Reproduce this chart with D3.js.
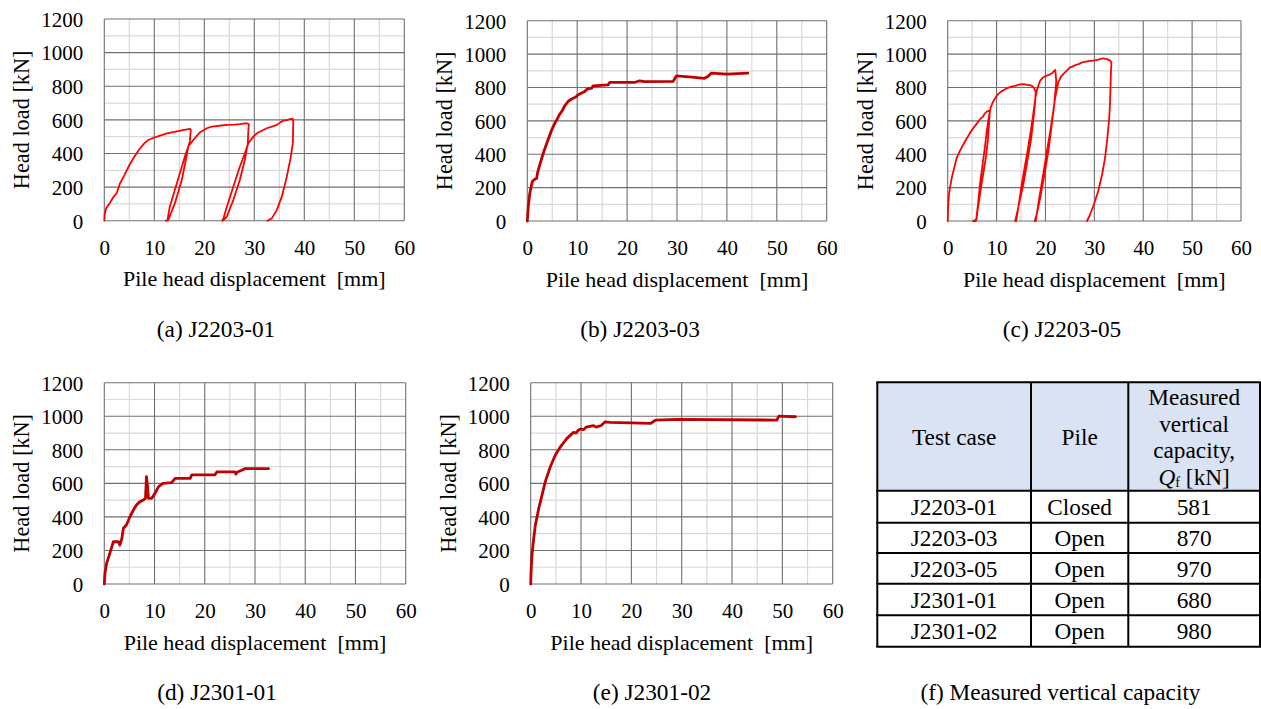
<!DOCTYPE html>
<html>
<head>
<meta charset="utf-8">
<script src="https://cdn.jsdelivr.net/npm/d3@7"></script>
<style>
  html, body { margin: 0; padding: 0; background: #ffffff; }
  svg { display: block; }
</style>
</head>
<body>
<svg id="chart" width="1261" height="709" font-family="Liberation Serif"></svg>
<script>
// ---------------- DATA ----------------
const xTicks = [0, 10, 20, 30, 40, 50, 60];
const yTicks = [0, 200, 400, 600, 800, 1000, 1200];
const xTitle = "Pile head displacement  [mm]";
const yTitle = "Head load [kN]";

// (a) J2203-01 : displacement [mm], load [kN]
const dispA = [0,0.1,0.4,1,1.8,2.5,3.1,4,5,6,7,8,8.8,10,11,12.5,13.5,15,16,17.1,17.3,
  17.1,16.8,16.3,15.5,14.1,12.8,12.3,
  12.6,13.1,14.5,15.5,16.3,16.8,17.8,19.1,20.5,21.5,23,24.5,26,27.1,28.5,28.9,
  28.8,28.7,28.1,27.1,25.8,24.5,23.9,23.6,
  23.9,24.5,25.8,27.1,28.1,28.8,29.8,30.5,31.5,32.5,33.5,34.5,35.2,35.8,36.5,37.2,37.7,
  37.8,37.7,37.3,36.5,35.5,34.5,33.5,32.6];
const loadA = [0,45,75,100,140,165,220,270,330,380,425,460,480,495,505,520,525,535,540,546,540,
  470,441,361,242,103,4,0,
  0,83,222,321,400,441,480,525,550,560,565,570,572,575,580,575,
  530,460,361,242,123,24,5,0,
  20,83,202,321,400,460,500,520,535,550,560,570,585,595,598,605,605,
  590,460,380,262,143,63,14,0];

// (b) J2203-03
const dispB = [0,0.2,0.5,1.0,1.5,1.9,2.0,2.2,2.5,3.2,3.9,4.9,5.5,5.9,6.5,6.9,7.5,8.2,8.6,9.2,9.8,10.2,10.8,11.5,12.0,12.9,13.2,16.2,16.5,21.5,22.5,23.5,29.2,29.9,33,35.5,36.2,36.9,40,44.2];
const loadB = [0,86,166,236,250,256,280,306,336,406,466,546,585,606,640,656,690,716,725,736,745,756,765,776,790,796,810,816,830,830,840,835,836,870,862,855,866,886,880,886];

// (c) J2203-05
const dispC = [0,0.1,0.3,0.8,1.8,2.5,3.5,4.5,5.2,6,6.6,7.2,7.6,8,8.3,8.6,
  8.5,8.2,7.8,7.2,6.6,6.1,5.9,5.2,
  5.8,6.2,6.6,7.1,7.6,8,8.4,8.8,9.2,9.7,10.3,10.9,12.1,13,13.8,14.8,15.5,16.3,16.8,17.3,17.7,18,
  17.9,17.5,17,16.3,15.6,14.8,14.2,13.8,
  14,14.6,15.2,15.8,16.4,17,17.5,17.9,18.3,18.9,19.5,20,20.7,21.3,21.8,22,22.2,
  22.1,21.8,21.3,20.6,19.8,19,18.3,17.8,
  18,18.8,19.6,20.3,21,21.5,22,22.6,23.3,23.8,24.5,25,25.5,26.2,26.8,27.5,28.8,30.1,31,31.8,32.6,33.3,33.5,
  33.4,33.2,33,32.6,32.2,31.6,30.8,29.8,29,28.5];
const loadC = [0,100,170,255,375,420,475,525,555,585,610,625,645,655,660,655,
  600,480,380,270,160,60,10,0,
  0,100,220,330,440,540,620,680,710,735,760,775,795,805,810,818,820,815,814,808,795,775,
  720,600,480,360,240,130,50,0,
  0,110,230,330,430,540,640,730,790,840,860,868,875,885,900,905,840,
  800,700,580,420,280,150,50,0,
  0,150,290,420,540,640,740,830,870,885,905,920,925,935,940,950,958,962,968,975,970,960,945,
  900,700,600,480,380,280,180,90,30,0];

// (d) J2301-01
const dispD = [0,0.13,0.46,1.1,1.8,2.8,3.1,3.5,3.8,4.4,5.1,5.8,6.4,7.1,7.8,8.2,8.4,8.6,8.8,9.4,10.1,10.8,11.7,13.4,14.1,17.1,17.4,22.0,22.4,26.0,26.2,26.5,27.5,28.0,32.7];
const loadD = [0,64,123,183,252,252,232,272,332,352,401,441,471,491,501,510,640,580,510,510,540,580,600,604,630,630,650,650,668,668,655,668,680,688,688];

// (e) J2301-02
const dispE = [0,0.07,0.26,0.6,0.93,1.6,2.25,2.9,3.9,4.9,5.9,7.2,8.5,9.0,9.5,9.9,10.5,11.0,11.5,12.5,13.0,14.0,14.8,15.8,23.8,24.8,29.1,48.9,49.3,52.6];
const loadE = [0,73,173,272,352,451,530,610,699,769,818,868,904,900,918,924,920,935,938,944,935,945,967,963,957,977,981,977,1001,997];

// (f) table
const tableHeader = ["Test case", "Pile"];
const headerCapacity = ["Measured", "vertical", "capacity,"];
const testCases = ["J2203-01", "J2203-03", "J2203-05", "J2301-01", "J2301-02"];
const pileTypes = ["Closed", "Open", "Open", "Open", "Open"];
const capacities = [581, 870, 970, 680, 980];

const captions = ["(a) J2203-01", "(b) J2203-03", "(c) J2203-05", "(d) J2301-01", "(e) J2301-02", "(f) Measured vertical capacity"];

// ---------------- LAYOUT ----------------
const FONT = "Liberation Serif";
const svg = d3.select("#chart");
svg.append("rect").attr("width", 1261).attr("height", 709).attr("fill", "#fff");

function txt(sel) {
  return sel.append("text").attr("font-family", FONT).attr("fill", "#000");
}

const panels = [
  {x: dispA, y: loadA, left: 104.3, top: 19.0, w: 300.0, h: 201.7, color: "#ff0000", sw: 1.8, cap: captions[0], capX: 216, capY: 337},
  {x: dispB, y: loadB, left: 527.3, top: 20.7, w: 299.4, h: 200.3, color: "#c00000", sw: 2.8, cap: captions[1], capX: 640, capY: 337},
  {x: dispC, y: loadC, left: 947.7, top: 20.7, w: 293.3, h: 200.3, color: "#ff0000", sw: 1.8, cap: captions[2], capX: 1062, capY: 337},
  {x: dispD, y: loadD, left: 104.3, top: 382.7, w: 301.4, h: 201.3, color: "#c00000", sw: 2.8, cap: captions[3], capX: 217, capY: 700},
  {x: dispE, y: loadE, left: 530.7, top: 382.7, w: 302.0, h: 201.3, color: "#c00000", sw: 2.8, cap: captions[4], capX: 652, capY: 700}
];

const MAJOR = "#6f6f6f", MINOR = "#d9d9d9";

panels.forEach(p => {
  const g = svg.append("g");
  const xs = d3.scaleLinear().domain([0, 60]).range([p.left, p.left + p.w]);
  const ys = d3.scaleLinear().domain([0, 1200]).range([p.top + p.h, p.top]);

  const minorX = d3.range(5, 60, 10);
  const minorY = d3.range(100, 1200, 200);
  g.selectAll(".mx").data(minorX).enter().append("line")
    .attr("x1", d => xs(d)).attr("x2", d => xs(d))
    .attr("y1", p.top).attr("y2", p.top + p.h)
    .attr("stroke", MINOR).attr("stroke-width", 1.2);
  g.selectAll(".my").data(minorY).enter().append("line")
    .attr("y1", d => ys(d)).attr("y2", d => ys(d))
    .attr("x1", p.left).attr("x2", p.left + p.w)
    .attr("stroke", MINOR).attr("stroke-width", 1.2);
  g.selectAll(".Mx").data(xTicks).enter().append("line")
    .attr("x1", d => xs(d)).attr("x2", d => xs(d))
    .attr("y1", p.top).attr("y2", p.top + p.h)
    .attr("stroke", MAJOR).attr("stroke-width", 1.1);
  g.selectAll(".My").data(yTicks).enter().append("line")
    .attr("y1", d => ys(d)).attr("y2", d => ys(d))
    .attr("x1", p.left).attr("x2", p.left + p.w)
    .attr("stroke", MAJOR).attr("stroke-width", 1.1);

  const ax = d3.axisBottom(xs).tickValues(xTicks).tickSize(0).tickPadding(0).tickFormat(d3.format("d"));
  const axG = g.append("g").attr("transform", `translate(0,${p.top + p.h})`).call(ax)
    .attr("font-family", FONT).attr("font-size", 21);
  axG.select(".domain").remove();
  axG.selectAll("text").attr("y", 34).attr("dy", null).attr("fill", "#000").attr("font-family", FONT);

  const ay = d3.axisLeft(ys).tickValues(yTicks).tickSize(0).tickPadding(0).tickFormat(d3.format("d"));
  const ayG = g.append("g").attr("transform", `translate(${p.left},0)`).call(ay)
    .attr("font-family", FONT).attr("font-size", 21);
  ayG.select(".domain").remove();
  ayG.selectAll("text").attr("x", -21).attr("dy", "0.35em").attr("fill", "#000").attr("font-family", FONT);

  txt(g).attr("x", p.left + p.w / 2).attr("y", p.top + p.h + 65.5)
    .attr("text-anchor", "middle").attr("font-size", 22)
    .style("white-space", "pre").text(xTitle);
  txt(g)
    .attr("transform", `translate(${p.left - 83},${p.top + p.h / 2}) rotate(-90)`)
    .attr("text-anchor", "middle").attr("dy", "0.35em").attr("font-size", 22.3)
    .text(yTitle);

  const pts = p.x.map((d, i) => [d, p.y[i]]);
  const line = d3.line().x(d => xs(d[0])).y(d => ys(d[1]));
  g.append("path").datum(pts).attr("d", line)
    .attr("fill", "none").attr("stroke", p.color).attr("stroke-width", p.sw)
    .attr("stroke-linejoin", "round").attr("stroke-linecap", "round");

  txt(svg).attr("x", p.capX).attr("y", p.capY).attr("text-anchor", "middle")
    .attr("font-size", 23.3).text(p.cap);
});

// ---------------- TABLE (f) ----------------
const colEdges = [877.3, 1031, 1128.3, 1260];
const rowEdges = [382.3, 490.7, 522.7, 553, 583.7, 615.3, 646.7];
const tg = svg.append("g");
tg.append("rect").attr("x", colEdges[0]).attr("y", rowEdges[0])
  .attr("width", colEdges[3] - colEdges[0]).attr("height", rowEdges[1] - rowEdges[0])
  .attr("fill", "#dae3f3");
const tfs = 23.3;
tableHeader.forEach((h, j) => {
  txt(tg).attr("x", (colEdges[j] + colEdges[j + 1]) / 2).attr("y", (rowEdges[0] + rowEdges[1]) / 2)
    .attr("dy", "0.35em").attr("text-anchor", "middle").attr("font-size", tfs).text(h);
});
const c3 = (colEdges[2] + colEdges[3]) / 2;
headerCapacity.forEach((t, i) => {
  txt(tg).attr("x", c3).attr("y", 396.7 + i * 26.7).attr("dy", "0.35em")
    .attr("text-anchor", "middle").attr("font-size", tfs).text(t);
});
const qt = txt(tg).attr("x", c3).attr("y", 396.7 + 3 * 26.7).attr("dy", "0.35em")
  .attr("text-anchor", "middle").attr("font-size", tfs);
qt.append("tspan").attr("font-style", "italic").text("Q");
qt.append("tspan").attr("font-size", tfs * 0.62).attr("dy", "0.12em").text("f");
qt.append("tspan").attr("dy", "-0.07em").text(" [kN]");

const rowsData = testCases.map((t, i) => [t, pileTypes[i], String(capacities[i])]);
rowsData.forEach((r, i) => {
  const yc = (rowEdges[i + 1] + rowEdges[i + 2]) / 2;
  r.forEach((v, j) => {
    txt(tg).attr("x", (colEdges[j] + colEdges[j + 1]) / 2).attr("y", yc)
      .attr("dy", "0.35em").attr("text-anchor", "middle").attr("font-size", tfs).text(v);
  });
});
rowEdges.forEach(y => tg.append("line").attr("x1", colEdges[0] - 1).attr("x2", colEdges[3] + 1)
  .attr("y1", y).attr("y2", y).attr("stroke", "#000").attr("stroke-width", 2));
colEdges.forEach(x => tg.append("line").attr("x1", x).attr("x2", x)
  .attr("y1", rowEdges[0]).attr("y2", rowEdges[rowEdges.length - 1]).attr("stroke", "#000").attr("stroke-width", 2));

txt(svg).attr("x", 1060.5).attr("y", 700).attr("text-anchor", "middle")
  .attr("font-size", 23.3).text(captions[5]);
</script>
</body>
</html>
